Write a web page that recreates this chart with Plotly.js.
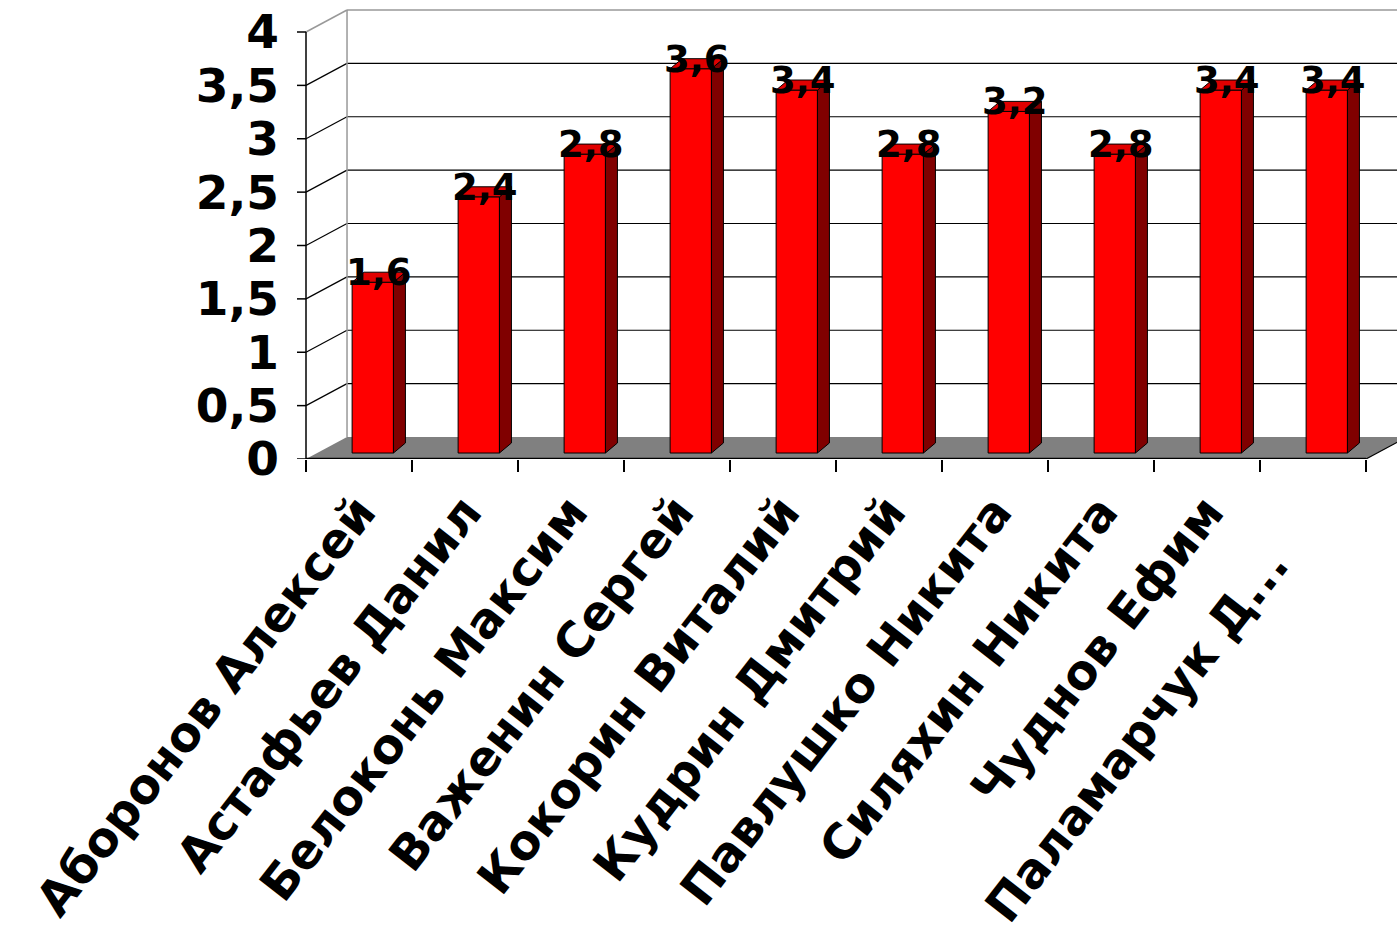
<!DOCTYPE html>
<html>
<head>
<meta charset="utf-8">
<script src="https://cdn.plot.ly/plotly-3.0.1.min.js"></script>
<style>
  html, body { margin: 0; padding: 0; background: #ffffff; }
  #chart { width: 1397px; height: 940px; }
</style>
</head>
<body>
<div id="chart"></div>
<script>
// ---------- data ----------
const categories = [
  "Аборонов Алексей",
  "Астафьев Данил",
  "Белоконь Максим",
  "Важенин Сергей",
  "Кокорин Виталий",
  "Кудрин Дмитрий",
  "Павлушко Никита",
  "Силяхин Никита",
  "Чуднов Ефим",
  "Паламарчук Д..."
];
const values = [1.6, 2.4, 2.8, 3.6, 3.4, 2.8, 3.2, 2.8, 3.4, 3.4];
const yTickVals = [0, 0.5, 1, 1.5, 2, 2.5, 3, 3.5, 4];
const yTickText = ["0", "0,5", "1", "1,5", "2", "2,5", "3", "3,5", "4"];

// ---------- pseudo-3D geometry (in axis units) ----------
const WALL_DX = 0.387, WALL_DY = 0.206;   // depth of back wall
const BAR_BASE = 0.056;                    // bar front plane lift
const BAR_OFFSET = -0.065, BAR_W = 0.39;   // bar front face position
const SIDE_DX = 0.113, SIDE_DY = 0.094;    // bar depth
const YMAX = 4;
const N = categories.length;
const idx = categories.map((c, i) => i);
const xLeft = -0.5, xRight = N - 0.5;
const FONT = "DejaVu Sans, Arial, sans-serif";

// ---------- background shapes ----------
const shapes = [];
// floor
shapes.push({type: "path", layer: "below", xref: "x", yref: "y",
  path: `M ${xLeft},0 L ${xRight},0 L ${xRight + WALL_DX},${WALL_DY} L ${xLeft + WALL_DX},${WALL_DY} Z`,
  fillcolor: "#808080", line: {width: 0}});
// back wall gridlines and side-wall diagonals
yTickVals.forEach(v => {
  if (v > 0 && v < YMAX) {
    shapes.push({type: "line", layer: "below", xref: "x", yref: "y",
      x0: xLeft + WALL_DX, x1: xRight + 2, y0: v + WALL_DY, y1: v + WALL_DY,
      line: {color: "#000000", width: 1.2}});
    shapes.push({type: "line", layer: "below", xref: "x", yref: "y",
      x0: xLeft, x1: xLeft + WALL_DX, y0: v, y1: v + WALL_DY,
      line: {color: "#000000", width: 1.2}});
  }
  // y tick marks on the front axis
  shapes.push({type: "line", layer: "above", xref: "x", yref: "y",
    x0: xLeft - 0.085, x1: xLeft, y0: v, y1: v,
    line: {color: "#000000", width: 1.5}});
});
// back wall frame (gray)
shapes.push({type: "line", layer: "below", xref: "x", yref: "y",
  x0: xLeft + WALL_DX, x1: xLeft + WALL_DX, y0: WALL_DY, y1: YMAX + WALL_DY,
  line: {color: "#999999", width: 1.5}});
shapes.push({type: "line", layer: "below", xref: "x", yref: "y",
  x0: xLeft + WALL_DX, x1: xRight + 2, y0: YMAX + WALL_DY, y1: YMAX + WALL_DY,
  line: {color: "#999999", width: 1.5}});
shapes.push({type: "line", layer: "below", xref: "x", yref: "y",
  x0: xLeft, x1: xLeft + WALL_DX, y0: YMAX, y1: YMAX + WALL_DY,
  line: {color: "#999999", width: 1.5}});
// front axis line and floor edges
shapes.push({type: "line", layer: "above", xref: "x", yref: "y",
  x0: xLeft, x1: xLeft, y0: 0, y1: YMAX, line: {color: "#000000", width: 1.5}});
shapes.push({type: "line", layer: "above", xref: "x", yref: "y",
  x0: xLeft, x1: xRight, y0: 0, y1: 0, line: {color: "#000000", width: 2.5}});
shapes.push({type: "line", layer: "above", xref: "x", yref: "y",
  x0: xRight, x1: xRight + WALL_DX, y0: 0, y1: WALL_DY, line: {color: "#000000", width: 1.2}});

// ---------- bar faces ----------
const frontTrace = {
  type: "bar", x: idx, y: values, base: BAR_BASE,
  width: BAR_W, offset: BAR_OFFSET,
  marker: {color: "#FF0000", line: {color: "#000000", width: 1}},
  hoverinfo: "skip"
};
const sideX = [], sideY = [], topX = [], topY = [];
values.forEach((v, i) => {
  const xl = i + BAR_OFFSET, xr = xl + BAR_W;
  const b = BAR_BASE, t = BAR_BASE + v;
  sideX.push(xr, xr + SIDE_DX, xr + SIDE_DX, xr, xr, null);
  sideY.push(b, b + SIDE_DY, t + SIDE_DY, t, b, null);
  topX.push(xl, xr, xr + SIDE_DX, xl + SIDE_DX, xl, null);
  topY.push(t, t, t + SIDE_DY, t + SIDE_DY, t, null);
});
const sideTrace = {type: "scatter", mode: "lines", x: sideX, y: sideY, fill: "toself",
  fillcolor: "#800000", line: {color: "#000000", width: 1}, hoverinfo: "skip"};
const topTrace = {type: "scatter", mode: "lines", x: topX, y: topY, fill: "toself",
  fillcolor: "#E00000", line: {color: "#000000", width: 1}, hoverinfo: "skip"};
const labelTrace = {
  type: "scatter", mode: "text",
  x: idx.map(i => i + BAR_OFFSET + BAR_W / 2 + SIDE_DX / 2),
  y: values.map(v => v + BAR_BASE + 0.06),
  text: values.map(v => String(v).replace(".", ",")),
  textposition: "middle center",
  textfont: {family: FONT, size: 37, color: "#000000", weight: "bold"},
  cliponaxis: false, hoverinfo: "skip"
};
const tickTrace = {type: "scatter", mode: "markers", x: [0], y: [0], xaxis: "x2",
  marker: {opacity: 0}, hoverinfo: "skip"};

// last label sits a little lower in the original: pad it with no-break spaces
const tickText = categories.map((c, i) => i === N - 1 ? c + "\u00a0\u00a0\u00a0\u00a0" : c);

const xRange = [xLeft - 16 / 106, xLeft + (1397 - 306) / 106];
const layout = {
  width: 1397, height: 940,
  margin: {l: 290, r: 0, t: 5, b: 481, pad: 0},
  paper_bgcolor: "#ffffff", plot_bgcolor: "#ffffff",
  showlegend: false, hovermode: false,
  separators: ", ",
  xaxis: {
    type: "linear", range: xRange, tickmode: "array",
    tickvals: idx, ticktext: tickText, ticks: "",
    tickangle: -52, ticklabelstandoff: 14,
    tickfont: {family: FONT, size: 48, color: "#000000", weight: "bold"},
    showgrid: false, zeroline: false, showline: false, fixedrange: true
  },
  xaxis2: {
    type: "linear", range: xRange, overlaying: "x", anchor: "y", side: "bottom",
    tickmode: "array", tickvals: [-1].concat(idx).map(i => i + 0.5),
    ticks: "outside", ticklen: 12, tickwidth: 1.5, tickcolor: "#000000",
    showticklabels: false, showgrid: false, zeroline: false, showline: false
  },
  yaxis: {
    range: [0, 454 / 106.75], tickmode: "array",
    tickvals: yTickVals, ticktext: yTickText, ticks: "",
    ticklabelstandoff: 10,
    tickfont: {family: FONT, size: 47, color: "#000000", weight: "bold"},
    showgrid: false, zeroline: false, showline: false, fixedrange: true
  },
  shapes: shapes
};

Plotly.newPlot("chart", [frontTrace, sideTrace, topTrace, labelTrace, tickTrace], layout,
  {staticPlot: true, displayModeBar: false});
</script>
</body>
</html>
